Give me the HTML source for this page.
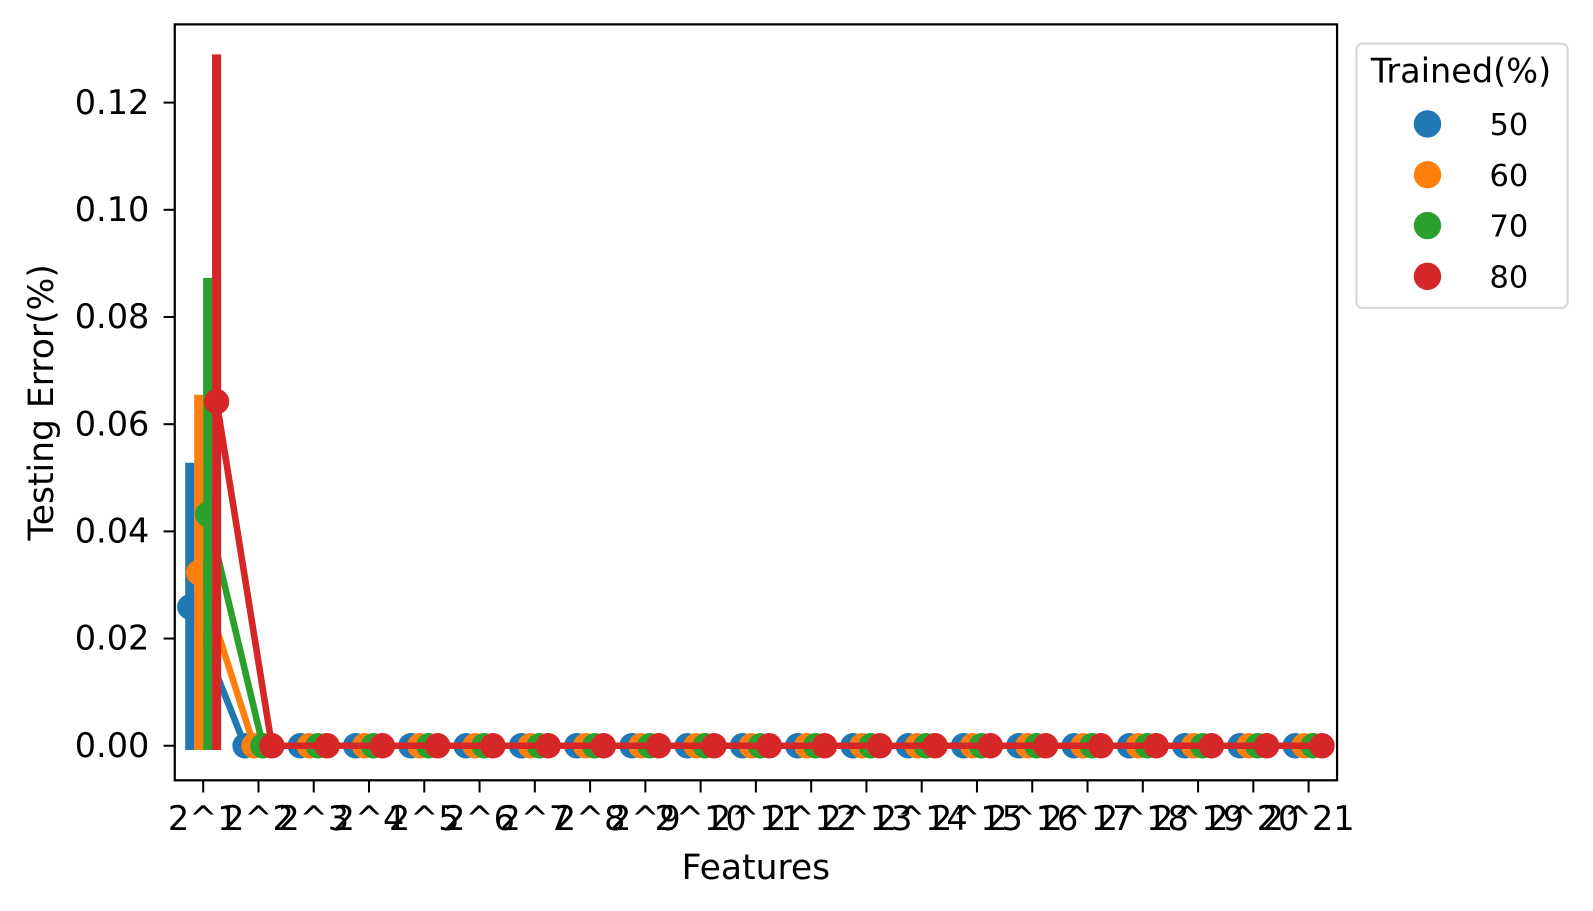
<!DOCTYPE html>
<html><head><meta charset="utf-8"><style>
body{margin:0;background:#fff;overflow:hidden;}
svg{display:block;font-family:"DejaVu Sans","Liberation Sans",sans-serif;}
</style></head><body>
<svg id="chart" width="1593" height="911">
<g transform="scale(1.016)">
<g id="plot"></g>
<rect x="172" y="24" width="1144" height="744" fill="none" stroke="#000" stroke-width="2.2"/>
<g id="yticks"></g>
<g id="xticks"></g>
<text x="52" y="396" transform="rotate(-90 52 396)" text-anchor="middle" font-size="34">Testing Error(%)</text>
<text x="744" y="865" text-anchor="middle" font-size="34">Features</text>
<g>
<rect x="1335" y="43" width="208" height="260" rx="6" fill="#fff" stroke="#d6d6d6" stroke-width="2"/>
<text x="1438" y="81" text-anchor="middle" font-size="33">Trained(%)</text>
<g id="legend-entries"></g>
</g>
</g>
</svg>
<script>
const categories=[];for(let i=1;i<=21;i++)categories.push('2^'+i);
const hues=['50','60','70','80'];
const colors=['#1f77b4','#ff7f0e','#2ca02c','#d62728'];
const means=[
[0.0259,0,0,0,0,0,0,0,0,0,0,0,0,0,0,0,0,0,0,0,0],
[0.0323,0,0,0,0,0,0,0,0,0,0,0,0,0,0,0,0,0,0,0,0],
[0.0432,0,0,0,0,0,0,0,0,0,0,0,0,0,0,0,0,0,0,0,0],
[0.0642,0,0,0,0,0,0,0,0,0,0,0,0,0,0,0,0,0,0,0,0]];
const errLow=[-0.0008,-0.0008,-0.0008,-0.0008];
const errHigh=[0.0528,0.0655,0.0873,0.129];
const yTicks=[0,0.02,0.04,0.06,0.08,0.10,0.12];
const NS='http://www.w3.org/2000/svg';
const x=i=>200+i*54.4;
const y=v=>734-v*5275;
const off=h=>(h-1.5)*8.8;
function mk(tag,attrs,parent){const e=document.createElementNS(NS,tag);for(const k in attrs)e.setAttribute(k,attrs[k]);parent.appendChild(e);return e;}
const plot=document.getElementById('plot');
hues.forEach((hname,h)=>{
  const c=colors[h];
  const eb=mk('line',{x1:x(0)+off(h),x2:x(0)+off(h),y1:y(errLow[h]),y2:y(errHigh[h]),stroke:c,'stroke-width':9},plot);
  
  
  const pts=means[h].map((v,i)=>(x(i)+off(h))+','+y(v)).join(' ');
  const pl=mk('polyline',{points:pts,fill:'none',stroke:c,'stroke-width':6.5,'stroke-linejoin':'round'},plot);
  
  
  means[h].forEach((v,i)=>{
    const p=mk('circle',{cx:x(i)+off(h),cy:y(v),r:12.5,fill:c},plot);
    
    
  });
});
const yt=document.getElementById('yticks');
yTicks.forEach(v=>{
  mk('line',{x1:161,x2:172,y1:y(v),y2:y(v),stroke:'#000','stroke-width':2},yt);
  const t=mk('text',{x:147,y:y(v)+11,'text-anchor':'end','font-size':33},yt);
  t.textContent=v.toFixed(2);
  
  
});
const xt=document.getElementById('xticks');
categories.forEach((c,i)=>{
  mk('line',{x1:x(i),x2:x(i),y1:768,y2:780,stroke:'#000','stroke-width':2},xt);
  const t=mk('text',{x:x(i),y:817,'text-anchor':'middle','font-size':33},xt);
  t.textContent=c;
  
  
});
const lg=document.getElementById('legend-entries');
hues.forEach((hname,h)=>{
  const cy=122+h*50;
  const m=mk('circle',{cx:1405,cy:cy,r:13.5,fill:colors[h]},lg);
  
  
  const t=mk('text',{x:1466,y:cy+11,'font-size':30},lg);
  t.textContent=hname;
  
  
});
</script>
</body></html>
